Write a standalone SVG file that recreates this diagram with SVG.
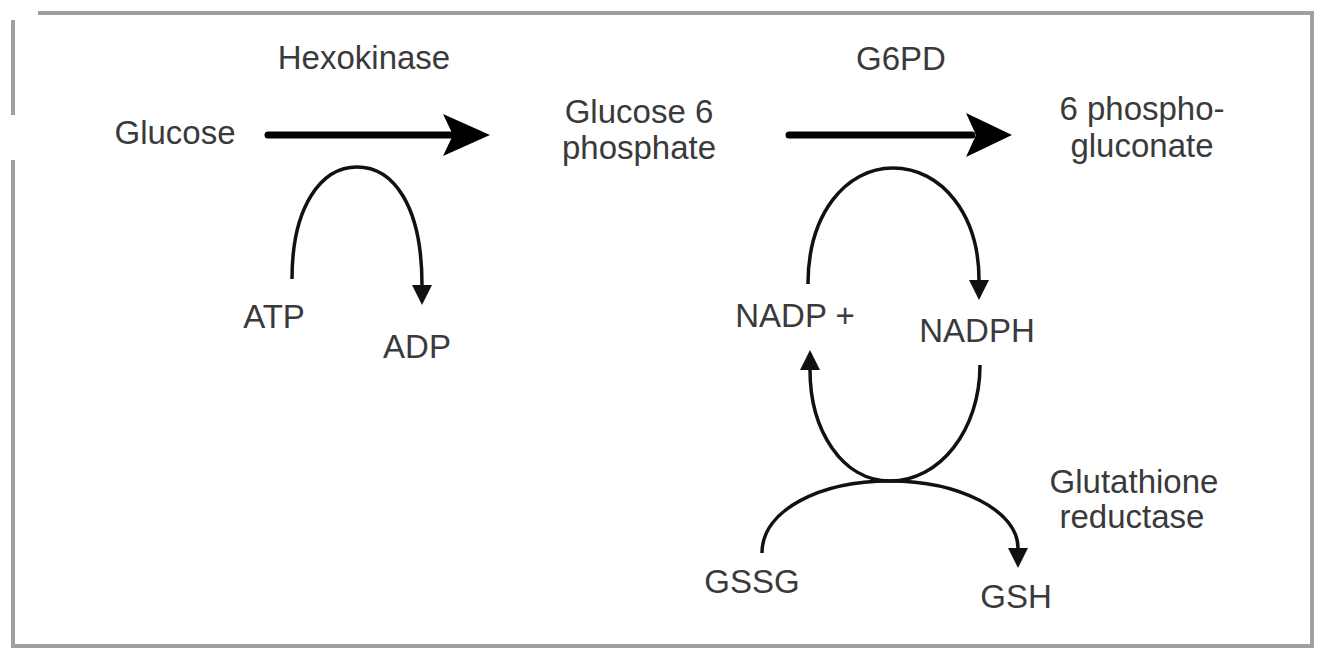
<svg xmlns="http://www.w3.org/2000/svg" width="1334" height="665" viewBox="0 0 1334 665">
<defs>
<style>
.t{font-family:"Liberation Sans",Arial,sans-serif;font-size:33px;fill:#3a3a3a;text-anchor:middle}
.frame{stroke:#a0a0a0;stroke-width:4;fill:none}
.big{stroke:#000;stroke-width:7;fill:none;stroke-linecap:round}
.thin{stroke:#111;stroke-width:3.5;fill:none;marker-end:url(#ah)}
.head{fill:#000}
</style>
<marker id="ah" markerUnits="userSpaceOnUse" viewBox="0 0 20 20" refX="0" refY="10" markerWidth="20" markerHeight="20" orient="auto">
<path d="M0,0 L20,10 L0,20 Z" fill="#111"/>
</marker>
</defs>
<rect width="1334" height="665" fill="#fff"/>
<g id="frame">
<line class="frame" x1="38" y1="13" x2="1314" y2="13"/>
<line class="frame" x1="1312" y1="11" x2="1312" y2="648"/>
<line class="frame" x1="11" y1="646" x2="1314" y2="646"/>
<line class="frame" x1="13" y1="20" x2="13" y2="115"/>
<line class="frame" x1="13" y1="160" x2="13" y2="646"/>
</g>
<g id="connectors">
<line class="big" x1="268" y1="135" x2="452" y2="135"/>
<path class="head" d="M490,135 L443,114 L453,135 L443,156 Z"/>
<line class="big" x1="789" y1="135" x2="972" y2="135"/>
<path class="head" d="M1012,135 L966,113 L976,135 L966,157 Z"/>
<path class="thin" d="M292,279 C292,205 322,167 357,167 C393,167 422,205 422,285"/>
<path class="thin" d="M808,284 C808,215 845,168 893,168 C942,168 979,215 979,280"/>
<path class="thin" d="M980,365 C980,430 940,481 890,481 C842,481 810,430 810,370"/>
<path class="thin" d="M762,553 C762,510 820,481 890,481 C958,481 1018,510 1018,548"/>
</g>
<g id="glucose"><text class="t" x="175" y="144">Glucose</text></g>
<g id="hexokinase"><text class="t" x="364" y="69">Hexokinase</text></g>
<g id="g6p"><text class="t" x="639" y="123">Glucose 6</text><text class="t" x="639" y="159">phosphate</text></g>
<g id="g6pd"><text class="t" x="901" y="70">G6PD</text></g>
<g id="pg"><text class="t" x="1142" y="120">6 phospho-</text><text class="t" x="1142" y="157">gluconate</text></g>
<g id="atp"><text class="t" x="274" y="328">ATP</text></g>
<g id="adp"><text class="t" x="417" y="358">ADP</text></g>
<g id="nadp"><text class="t" x="795" y="327">NADP +</text></g>
<g id="nadph"><text class="t" x="977" y="342">NADPH</text></g>
<g id="gr"><text class="t" x="1134" y="493">Glutathione</text><text class="t" x="1132" y="528">reductase</text></g>
<g id="gssg"><text class="t" x="752" y="593">GSSG</text></g>
<g id="gsh"><text class="t" x="1016" y="608">GSH</text></g>
</svg>
